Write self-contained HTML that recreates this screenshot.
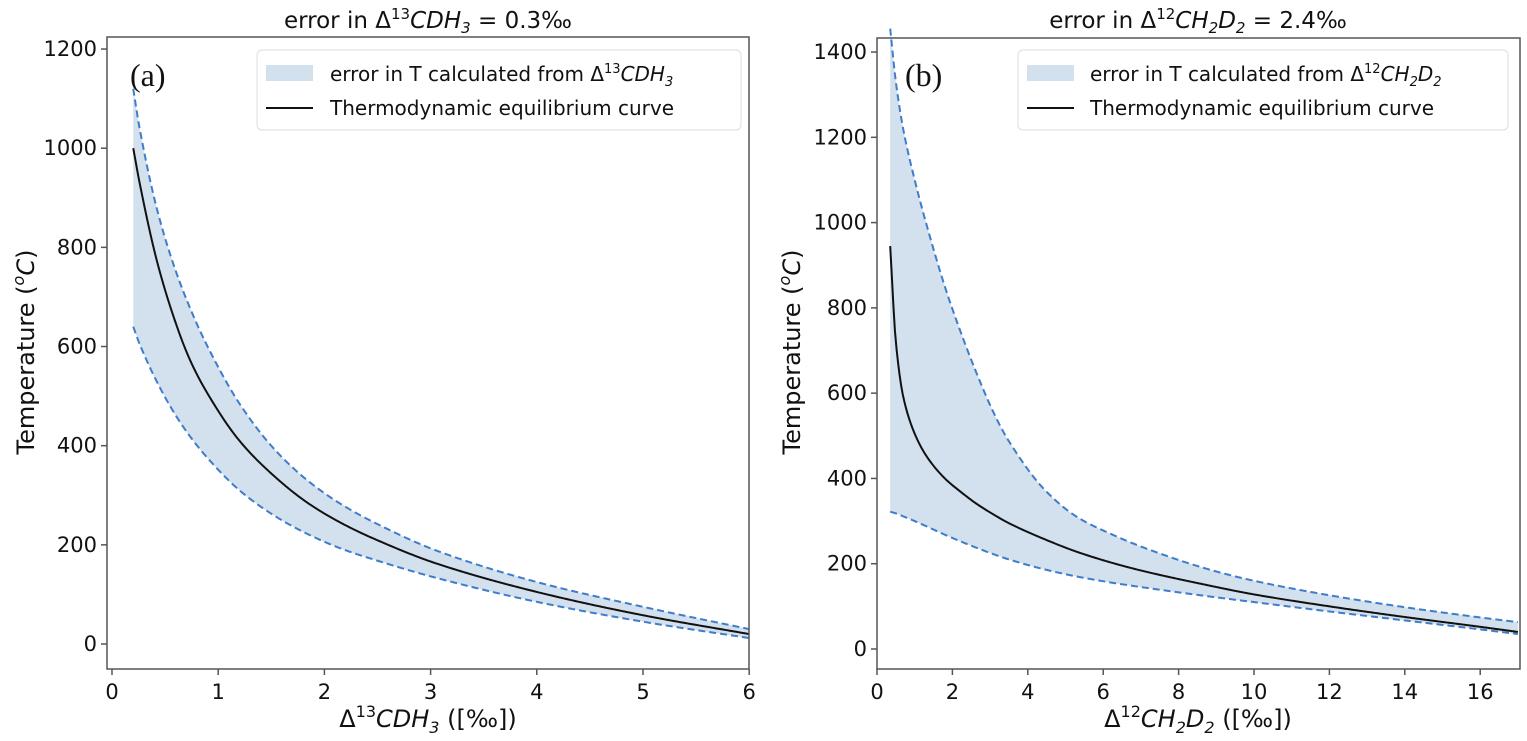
<!DOCTYPE html>
<html><head><meta charset="utf-8">
<style>
body{margin:0;background:#fff;}
svg{display:block;font-family:"DejaVu Sans","Liberation Sans",sans-serif;}
</style></head>
<body>
<svg id="fig" width="1527" height="741" viewBox="0 0 1527 741">
</svg>
<script>
// Panel (a) data
const aX = [0.2,0.26,0.42,0.58,0.73,0.9,1.2,1.52,1.84,2.15,2.47,3.06,4,5,6];
const aMid = [1000,930,775,660,575,505,410,340,285,245,212,162,105,58,20];
const aUp = [1120,1040,880,765,680,600,485,395,330,283,245,188,125,75,30];
const aLo = [640,605,530,468,420,375,310,260,222,193,170,133,85,45,12];
const aXTicks = [0,1,2,3,4,5,6];
const aYTicks = [0,200,400,600,800,1000,1200];
// Panel (b) data
const bX = [0.35,0.5,0.7,1,1.33,1.8,2.2,2.65,3.1,3.5,4.43,5.3,6.2,7.1,8.75,10,12,14,16,17];
const bMid = [945,720,590,505,450,400,370,340,315,295,258,228,203,182,150,128,100,75,52,40];
const bUp = [1455,1330,1217,1100,990,850,748,645,553,487,375,310,270,237,188,160,126,98,74,63];
const bLo = [322,318,311,300,287,268,253,237,222,210,187,170,156,144,124,110,88,67,46,35];
const bXTicks = [0,2,4,6,8,10,12,14,16];
const bYTicks = [0,200,400,600,800,1000,1200,1400];

const NS="http://www.w3.org/2000/svg";
const svg=document.getElementById('fig');
function mk(tag,attrs,parent,text){const e=document.createElementNS(NS,tag);for(const k in attrs)e.setAttribute(k,attrs[k]);if(text!==undefined)e.textContent=text;(parent||svg).appendChild(e);return e;}

// monotone cubic interpolation (Fritsch-Carlson) sampled densely
function sample(xs,ys,n){
  const k=xs.length,d=[],m=new Array(k);
  for(let i=0;i<k-1;i++)d.push((ys[i+1]-ys[i])/(xs[i+1]-xs[i]));
  m[0]=d[0];m[k-1]=d[k-2];
  for(let i=1;i<k-1;i++){m[i]=(d[i-1]*d[i]<=0)?0:2/(1/d[i-1]+1/d[i]);}
  const out=[];
  for(let j=0;j<=n;j++){
    const x=xs[0]+(xs[k-1]-xs[0])*j/n;
    let i=0;while(i<k-2&&x>xs[i+1])i++;
    const h=xs[i+1]-xs[i],t=(x-xs[i])/h,t2=t*t,t3=t2*t;
    const y=(2*t3-3*t2+1)*ys[i]+(t3-2*t2+t)*h*m[i]+(-2*t3+3*t2)*ys[i+1]+(t3-t2)*h*m[i+1];
    out.push([x,y]);
  }
  return out;
}

function panel(cfg){
  const g=mk('g',{});
  
  
  const sx=v=>cfg.x0+v*cfg.kx, sy=v=>cfg.y0-v*cfg.ky;
  const P=arr=>sample(cfg.xs,arr,400).map(p=>[sx(p[0]).toFixed(2),sy(p[1]).toFixed(2)]);
  const up=P(cfg.up),lo=P(cfg.lo),mid=P(cfg.mid);
  const line=pts=>'M'+pts.map(p=>p.join(',')).join(' L');
  const band=line(up)+' L'+lo.slice().reverse().map(p=>p.join(',')).join(' L')+' Z';
  const b=mk('path',{d:band,fill:'#d3e0ee',stroke:'none'},g);
  
  
  const u=mk('path',{d:line(up),fill:'none',stroke:'#3f7dc8','stroke-width':2,'stroke-dasharray':'7,4'},g);
  
  
  const l=mk('path',{d:line(lo),fill:'none',stroke:'#3f7dc8','stroke-width':2,'stroke-dasharray':'7,4'},g);
  
  
  const m=mk('path',{d:line(mid),fill:'none',stroke:'#111','stroke-width':2},g);
  
  
  const fr=mk('rect',{x:cfg.L,y:cfg.T,width:cfg.R-cfg.L,height:cfg.B-cfg.T,fill:'none',stroke:'#555','stroke-width':1.5},g);
  
  
  cfg.xt.forEach(v=>{
    const x=sx(v);
    mk('line',{x1:x,x2:x,y1:cfg.B,y2:cfg.B+6,stroke:'#555','stroke-width':1.5},g);
    const t=mk('text',{x:x,y:cfg.B+30,'font-size':21,'text-anchor':'middle',fill:'#111'},g,String(v));
    
    
  });
  cfg.yt.forEach(v=>{
    const y=sy(v);
    mk('line',{x1:cfg.L-6,x2:cfg.L,y1:y,y2:y,stroke:'#555','stroke-width':1.5},g);
    const t=mk('text',{x:cfg.L-10,y:y+7,'font-size':21,'text-anchor':'end',fill:'#111'},g,String(v));
    
    
  });
  return g;
}

panel({name:'panel-a',x0:112,kx:106.2,y0:644,ky:0.4958,L:107,R:749,T:37,B:669,xs:aX,mid:aMid,up:aUp,lo:aLo,xt:aXTicks,yt:aYTicks});
panel({name:'panel-b',x0:877,kx:37.7,y0:649,ky:0.4264,L:877,R:1520,T:38,B:669,xs:bX,mid:bMid,up:bUp,lo:bLo,xt:bXTicks,yt:bYTicks});
</script>
<svg width="1527" height="741" style="position:absolute;left:0;top:0" font-family="DejaVu Sans, Liberation Sans, sans-serif">
  <text x="428" y="28" font-size="23" text-anchor="middle" fill="#111">error in Δ<tspan font-size="15" dy="-9">13</tspan><tspan dy="9" font-style="italic">CDH</tspan><tspan font-size="15" dy="5" font-style="italic">3</tspan><tspan dy="-5">  = 0.3‰</tspan></text>
  <text x="1198" y="28" font-size="23" text-anchor="middle" fill="#111">error in Δ<tspan font-size="15" dy="-9">12</tspan><tspan dy="9" font-style="italic">CH</tspan><tspan font-size="15" dy="5" font-style="italic">2</tspan><tspan dy="-5" font-style="italic">D</tspan><tspan font-size="15" dy="5" font-style="italic">2</tspan><tspan dy="-5"> = 2.4‰</tspan></text>
  <text x="130" y="86" font-size="32" font-family="Liberation Serif, serif" fill="#111">(a)</text>
  <text x="905" y="86" font-size="32" font-family="Liberation Serif, serif" fill="#111">(b)</text>
  <g>
    <rect x="257" y="50" width="484" height="80" rx="5" fill="#fff" fill-opacity="0.85" stroke="#ddd"/>
    <rect x="266" y="65" width="47" height="16" fill="#d3e0ee"/>
    <text x="330" y="81" font-size="20" fill="#111">error in T calculated from Δ<tspan font-size="13" dy="-8">13</tspan><tspan dy="8" font-style="italic">CDH</tspan><tspan font-size="13" dy="5" font-style="italic">3</tspan></text>
    <line x1="266" x2="313" y1="108" y2="108" stroke="#111" stroke-width="2"/>
    <text x="330" y="115" font-size="20" fill="#111">Thermodynamic equilibrium curve</text>
  </g>
  <g>
    <rect x="1018" y="50" width="490" height="80" rx="5" fill="#fff" fill-opacity="0.85" stroke="#ddd"/>
    <rect x="1027" y="65" width="47" height="16" fill="#d3e0ee"/>
    <text x="1090" y="81" font-size="20" fill="#111">error in T calculated from Δ<tspan font-size="13" dy="-8">12</tspan><tspan dy="8" font-style="italic">CH</tspan><tspan font-size="13" dy="5" font-style="italic">2</tspan><tspan dy="-5" font-style="italic">D</tspan><tspan font-size="13" dy="5" font-style="italic">2</tspan></text>
    <line x1="1027" x2="1074" y1="108" y2="108" stroke="#111" stroke-width="2"/>
    <text x="1090" y="115" font-size="20" fill="#111">Thermodynamic equilibrium curve</text>
  </g>
  <text x="428" y="727" font-size="24" text-anchor="middle" fill="#111">Δ<tspan font-size="16" dy="-10">13</tspan><tspan dy="10" font-style="italic">CDH</tspan><tspan font-size="16" dy="6" font-style="italic">3</tspan><tspan dy="-6"> ([‰])</tspan></text>
  <text x="1198" y="727" font-size="24" text-anchor="middle" fill="#111">Δ<tspan font-size="16" dy="-10">12</tspan><tspan dy="10" font-style="italic">CH</tspan><tspan font-size="16" dy="6" font-style="italic">2</tspan><tspan dy="-6" font-style="italic">D</tspan><tspan font-size="16" dy="6" font-style="italic">2</tspan><tspan dy="-6"> ([‰])</tspan></text>
  <text transform="translate(34,352) rotate(-90)" font-size="24" text-anchor="middle" fill="#111">Temperature (<tspan font-size="16" dy="-10" font-style="italic">o</tspan><tspan dy="10" font-style="italic">C</tspan>)</text>
  <text transform="translate(800,352) rotate(-90)" font-size="24" text-anchor="middle" fill="#111">Temperature (<tspan font-size="16" dy="-10" font-style="italic">o</tspan><tspan dy="10" font-style="italic">C</tspan>)</text>
</svg>
</body></html>
